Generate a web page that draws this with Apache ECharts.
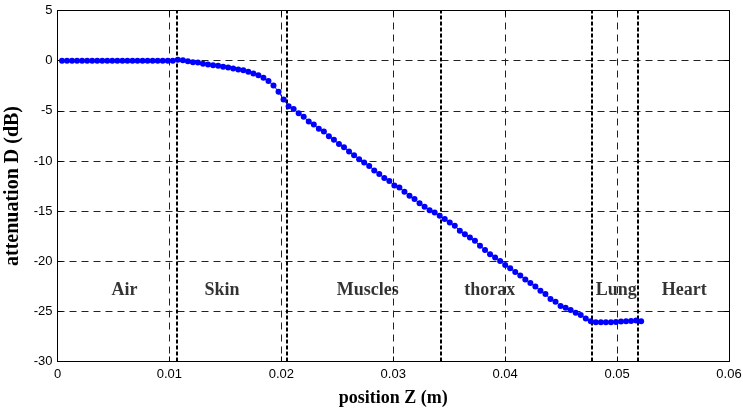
<!DOCTYPE html>
<html>
<head>
<meta charset="utf-8">
<script src="https://cdn.jsdelivr.net/npm/echarts@6/dist/echarts.min.js"></script>
<style>
html,body{margin:0;padding:0;background:#fff;}
#chart{width:743px;height:411px;}
</style>
</head>
<body>
<div id="chart"></div>
<script>
// position Z (m)
const positionZ = [
0.0004,0.00085,0.0013,0.00175,0.0022,0.00265,0.0031,0.00355,0.004,0.00445,
0.0049,0.00535,0.0058,0.00625,0.0067,0.00715,0.0076,0.00805,0.0085,0.00895,
0.0094,0.00985,0.0103,0.01075,0.0112,0.01165,0.0121,0.01255,0.013,0.01345,
0.0139,0.01435,0.0148,0.01525,0.0157,0.01615,0.0166,0.01705,0.0175,0.01795,
0.0184,0.01885,0.0193,0.01975,0.0202,0.02065,0.0211,0.02155,0.022,0.02245,
0.0229,0.02335,0.0238,0.02425,0.0247,0.02515,0.0256,0.02605,0.0265,0.02695,
0.0274,0.02785,0.0283,0.02875,0.0292,0.02965,0.0301,0.03055,0.031,0.03145,
0.0319,0.03235,0.0328,0.03325,0.0337,0.03415,0.0346,0.03505,0.0355,0.03595,
0.0364,0.03685,0.0373,0.03775,0.0382,0.03865,0.0391,0.03955,0.04,0.04045,
0.0409,0.04135,0.0418,0.04225,0.0427,0.04315,0.0436,0.04405,0.0445,0.04495,
0.0454,0.04585,0.0463,0.04675,0.0472,0.04765,0.0481,0.04855,0.049,0.04945,
0.0499,0.05035,0.0508,0.05125,0.0517,0.05215
];
// attenuation D (dB)
const attenuationD = [
0,0,0,0,0,0,0,0,0,0,
0,0,0,0,0,0,0,0,0,0,
0,0,0,0.1,0.05,-0.07,-0.16,-0.18,-0.3,-0.39,
-0.46,-0.5,-0.62,-0.69,-0.79,-0.89,-0.96,-1.12,-1.28,-1.45,
-1.71,-2.04,-2.47,-3.1,-3.88,-4.55,-4.83,-5.25,-5.6,-6.07,
-6.37,-6.8,-7.07,-7.55,-7.9,-8.3,-8.63,-9.07,-9.43,-9.83,
-10.15,-10.5,-10.95,-11.3,-11.7,-12.0,-12.45,-12.65,-13.07,-13.47,
-13.8,-14.23,-14.57,-14.93,-15.13,-15.47,-15.8,-16.13,-16.47,-16.97,
-17.3,-17.63,-17.97,-18.47,-18.87,-19.3,-19.63,-19.97,-20.37,-20.7,
-21.07,-21.42,-21.82,-22.16,-22.53,-22.94,-23.28,-23.78,-24.05,-24.46,
-24.63,-24.86,-25.13,-25.37,-25.71,-25.98,-26.08,-26.08,-26.08,-26.08,
-26.05,-26.01,-25.98,-25.95,-25.9,-25.98
];
// tissue boundaries (m)
const boundaries = [0.01065, 0.02048, 0.03427, 0.04774, 0.05185];
// region names and their label anchor (data coords)
const regionNames = ['Air', 'Skin', 'Muscles', 'thorax', 'Lung', 'Heart'];
const regionZ = [0.00599, 0.0147, 0.02772, 0.03863, 0.04993, 0.05601];
const regionD = [-22.9, -22.9, -22.9, -22.9, -22.9, -22.9];

const xTicks = [0, 0.01, 0.02, 0.03, 0.04, 0.05, 0.06];
const yTicks = [5, 0, -5, -10, -15, -20, -25, -30];

const sans = '"Liberation Sans", Arial, sans-serif';
const serif = '"Liberation Serif", "Times New Roman", serif';

const chart = echarts.init(document.getElementById('chart'), null, {renderer: 'canvas'});

const gridLine = {show: true, lineStyle: {color: '#222', width: 1, type: [7, 5]}};

const option = {
  animation: false,
  backgroundColor: '#fff',
  grid: {left: 57.5, right: 14, top: 10.5, bottom: 49.5, containLabel: false, outerBoundsMode: 'none'},
  xAxis: [{
    type: 'value', min: xTicks[0], max: xTicks[xTicks.length - 1], interval: 0.01,
    position: 'bottom',
    name: 'position Z (m)', nameLocation: 'middle', nameGap: 28,
    nameTextStyle: {fontFamily: serif, fontWeight: 'bold', fontSize: 18, color: '#000'},
    axisLine: {show: true, onZero: false, lineStyle: {color: '#000', width: 1}},
    axisTick: {show: true, inside: true, length: 5, lineStyle: {color: '#000'}},
    axisLabel: {show: true, margin: 6, fontFamily: sans, fontSize: 13, color: '#000',
      formatter: v => String(parseFloat(v.toFixed(2)))},
    splitLine: gridLine
  }, {
    type: 'value', min: xTicks[0], max: xTicks[xTicks.length - 1], interval: 0.01,
    position: 'top',
    axisLine: {show: true, onZero: false, lineStyle: {color: '#000', width: 1}},
    axisTick: {show: true, inside: true, length: 5, lineStyle: {color: '#000'}},
    axisLabel: {show: false}, splitLine: {show: false}
  }],
  yAxis: [{
    type: 'value', min: yTicks[yTicks.length - 1], max: yTicks[0], interval: 5,
    position: 'left',
    name: 'attenuation D (dB)', nameLocation: 'middle', nameGap: 33, nameRotate: 90,
    nameTextStyle: {fontFamily: serif, fontWeight: 'bold', fontSize: 20, color: '#000'},
    axisLine: {show: true, onZero: false, lineStyle: {color: '#000', width: 1}},
    axisTick: {show: true, inside: true, length: 5, lineStyle: {color: '#000'}},
    axisLabel: {show: true, margin: 5, fontFamily: sans, fontSize: 13, color: '#000'},
    splitLine: gridLine
  }, {
    type: 'value', min: yTicks[yTicks.length - 1], max: yTicks[0], interval: 5,
    position: 'right',
    axisLine: {show: true, onZero: false, lineStyle: {color: '#000', width: 1}},
    axisTick: {show: true, inside: true, length: 5, lineStyle: {color: '#000'}},
    axisLabel: {show: false}, splitLine: {show: false}
  }],
  series: [{
    type: 'line',
    data: positionZ.map((z, i) => [z, attenuationD[i]]),
    symbol: 'circle', symbolSize: 6, showSymbol: true,
    itemStyle: {color: '#0000ff'},
    lineStyle: {color: '#0000ff', width: 1},
    z: 5,
    markLine: {
      silent: true, symbol: 'none', label: {show: false}, precision: 6,
      lineStyle: {color: '#000', width: 2, type: [4, 2]},
      data: boundaries.map(b => ({xAxis: b}))
    }
  }, {
    type: 'scatter',
    symbolSize: 0,
    itemStyle: {color: 'transparent'},
    data: regionNames.map((n, i) => ({name: n, value: [regionZ[i], regionD[i]]})),
    label: {show: true, position: 'inside', formatter: p => p.name,
      fontFamily: serif, fontWeight: 'bold', fontSize: 18, color: '#000',
      textBorderWidth: 0, textBorderColor: 'transparent'},
    z: 6
  }]
};
chart.setOption(option);
</script>
</body>
</html>
